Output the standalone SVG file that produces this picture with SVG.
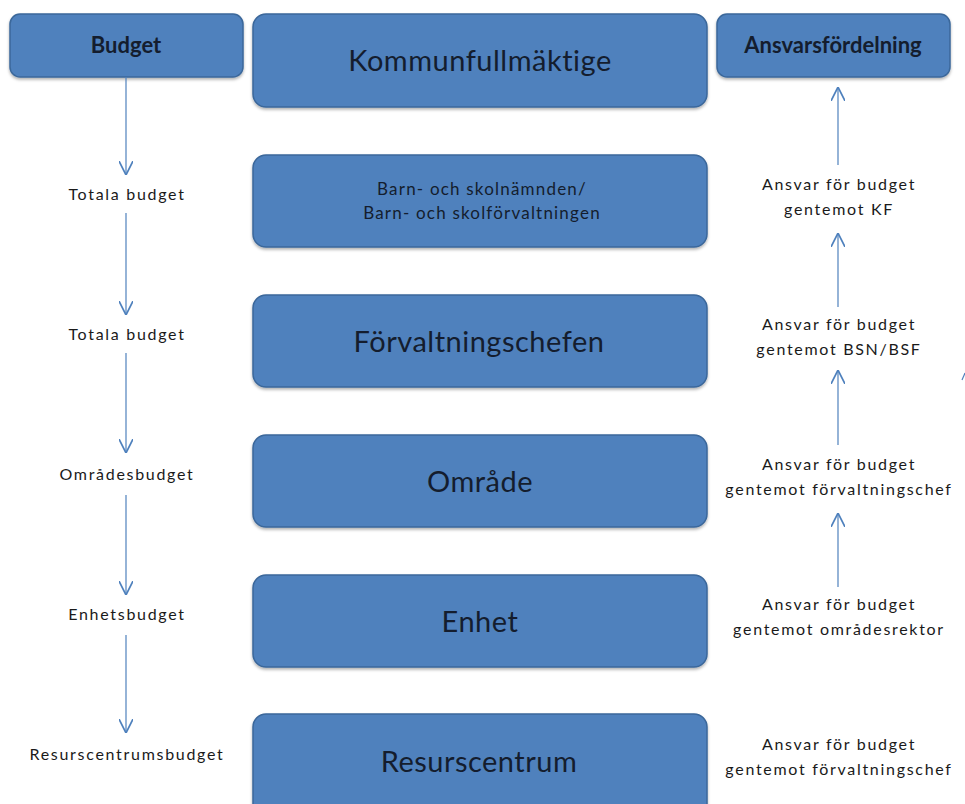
<svg xmlns="http://www.w3.org/2000/svg" width="965" height="804" viewBox="0 0 965 804">
<defs>
<style>
.box{fill:#4f81bd;stroke:#3b679a;stroke-width:1.5;}
.t{font-family:Lato,"Open Sans","Liberation Sans",sans-serif;fill:#141d2e;text-anchor:middle;}
.big{font-size:29px;letter-spacing:0.5px;}
.hd{font-size:22px;font-weight:bold;}
.mid{font-size:17px;letter-spacing:1.2px;}
.lbl{font-family:Lato,"Open Sans","Liberation Sans",sans-serif;fill:#1a1a1a;text-anchor:middle;font-size:16px;letter-spacing:1.7px;}
.c{stroke:#4f81bd;stroke-width:1.2;fill:none;}
</style>
<marker id="ah" viewBox="0 0 10 10" refX="10" refY="5" markerWidth="14" markerHeight="14" markerUnits="userSpaceOnUse" orient="auto">
<path d="M0,0 L10,5 L0,10" fill="none" stroke="#4f81bd" stroke-width="1.2"/>
</marker>
<filter id="sh" x="-5%" y="-5%" width="110%" height="120%">
<feDropShadow dx="0" dy="2" stdDeviation="1.5" flood-color="#000" flood-opacity="0.3"/>
</filter>
</defs>
<rect width="965" height="804" fill="#fff"/>

<g id="budget"><rect class="box" filter="url(#sh)" x="10" y="14" width="233" height="63" rx="10"/><text class="t hd" x="126" y="53">Budget</text></g>
<g id="kommunfullmaktige"><rect class="box" filter="url(#sh)" x="253" y="14" width="454" height="93" rx="13"/><text class="t big" x="480" y="71">Kommunfullmäktige</text></g>
<g id="ansvarsfordelning"><rect class="box" filter="url(#sh)" x="717" y="14" width="233" height="63" rx="10"/><text class="t hd" x="833" y="53">Ansvarsfördelning</text></g>
<g id="bsn"><rect class="box" filter="url(#sh)" x="253" y="155" width="454" height="92" rx="13"/><text class="t mid" x="482" y="195">Barn- och skolnämnden/</text><text class="t mid" x="482" y="219">Barn- och skolförvaltningen</text></g>
<g id="forvaltningschefen"><rect class="box" filter="url(#sh)" x="253" y="295" width="454" height="92" rx="13"/><text class="t big" x="479" y="352">Förvaltningschefen</text></g>
<g id="omrade"><rect class="box" filter="url(#sh)" x="253" y="435" width="454" height="92" rx="13"/><text class="t big" x="480" y="492">Område</text></g>
<g id="enhet"><rect class="box" filter="url(#sh)" x="253" y="575" width="454" height="92" rx="13"/><text class="t big" x="480" y="632">Enhet</text></g>
<g id="resurscentrum"><rect class="box" filter="url(#sh)" x="253" y="714" width="454" height="110" rx="13"/><text class="t big" x="479" y="772">Resurscentrum</text></g>

<g id="left-labels">
<text class="lbl" x="127" y="200">Totala budget</text>
<text class="lbl" x="127" y="340">Totala budget</text>
<text class="lbl" x="127" y="480">Områdesbudget</text>
<text class="lbl" x="127" y="620">Enhetsbudget</text>
<text class="lbl" x="127" y="760">Resurscentrumsbudget</text>
</g>
<g id="right-labels">
<text class="lbl" x="839" y="190">Ansvar för budget</text><text class="lbl" x="839" y="215">gentemot KF</text>
<text class="lbl" x="839" y="330">Ansvar för budget</text><text class="lbl" x="839" y="355">gentemot BSN/BSF</text>
<text class="lbl" x="839" y="470">Ansvar för budget</text><text class="lbl" x="839" y="495">gentemot förvaltningschef</text>
<text class="lbl" x="839" y="610">Ansvar för budget</text><text class="lbl" x="839" y="635">gentemot områdesrektor</text>
<text class="lbl" x="839" y="750">Ansvar för budget</text><text class="lbl" x="839" y="775">gentemot förvaltningschef</text>
</g>

<g id="connectors">
<line class="c" x1="126" y1="77" x2="126" y2="175" marker-end="url(#ah)"/>
<line class="c" x1="126" y1="213" x2="126" y2="315" marker-end="url(#ah)"/>
<line class="c" x1="126" y1="353" x2="126" y2="453" marker-end="url(#ah)"/>
<line class="c" x1="126" y1="495" x2="126" y2="595" marker-end="url(#ah)"/>
<line class="c" x1="126" y1="635" x2="126" y2="733" marker-end="url(#ah)"/>
<line class="c" x1="838" y1="165" x2="838" y2="87" marker-end="url(#ah)"/>
<line class="c" x1="838" y1="307" x2="838" y2="233" marker-end="url(#ah)"/>
<line class="c" x1="838" y1="445" x2="838" y2="370" marker-end="url(#ah)"/>
<line class="c" x1="838" y1="587" x2="838" y2="513" marker-end="url(#ah)"/>
<path class="c" d="M962,380 L965,373"/>
</g>
</svg>
